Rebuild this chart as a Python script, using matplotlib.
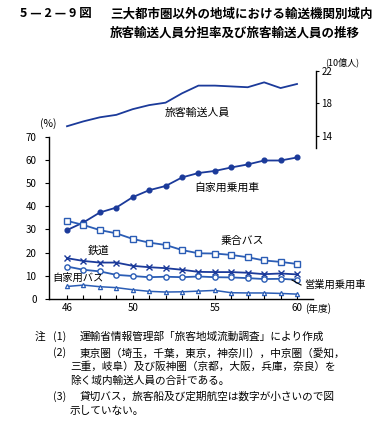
import matplotlib
matplotlib.use("Agg")
import matplotlib.pyplot as plt

plt.rcParams['font.family'] = ['Noto Sans CJK JP', 'DejaVu Sans']

years = list(range(46, 61))
passengers = [15.2, 15.8, 16.3, 16.6, 17.3, 17.8, 18.1, 19.25, 20.2, 20.2, 20.1, 20.0, 20.6, 19.9, 20.4]
private_car = [29.7, 33.0, 37.3, 39.4, 43.9, 46.9, 48.7, 52.4, 54.3, 55.2, 56.7, 58.0, 59.7, 59.7, 61.0]
route_bus = [33.7, 31.9, 29.7, 28.3, 25.9, 24.3, 23.3, 21.1, 19.7, 19.6, 19.0, 18.0, 16.6, 16.0, 15.1]
railway = [17.6, 16.4, 15.7, 15.7, 14.3, 13.7, 13.3, 12.6, 11.7, 11.6, 11.6, 11.3, 10.7, 11.0, 10.6]
taxi = [14.0, 12.6, 11.9, 10.4, 9.9, 9.4, 9.6, 9.4, 9.7, 9.4, 9.3, 9.0, 8.6, 8.7, 8.3]
private_bus = [5.4, 6.0, 5.3, 4.9, 4.0, 3.3, 3.0, 3.1, 3.4, 3.7, 2.7, 2.6, 2.6, 2.4, 2.1]
left_ticks = [0, 10, 20, 30, 40, 50, 60, 70]
right_ticks = [14, 18, 22]
x_labels = ['46', '', '', '', '50', '', '', '', '', '55', '', '', '', '', '60']

W, H = 384, 428
fig = plt.figure(figsize=(W / 100, H / 100), dpi=100)
fig.patch.set_facecolor('white')

def fx(px):
    return px / W

def fy(py):
    return 1 - py / H

# axes from x=49..316 px, y=67..299 px
ax = fig.add_axes([fx(49), fy(299), (316 - 49) / W, (299 - 67) / H])
ax.set_xlim(44.904, 61.156)
ax.set_ylim(0, 100)
ax.patch.set_alpha(0)

dark = '#1b3a9a'
mid = '#2b5db5'

ax.plot(years, private_car, color=dark, lw=1.3, marker='o', ms=3.4, mfc=dark, mec=dark)
ax.plot(years, route_bus, color=mid, lw=1.3, marker='s', ms=4.0, mfc='white', mec=mid, mew=1.0)
ax.plot(years, railway, color=dark, lw=1.3, marker='x', ms=4.0, mec=dark, mew=1.0)
ax.plot(years, taxi, color=mid, lw=1.3, marker='o', ms=3.8, mfc='white', mec=mid, mew=1.0)
ax.plot(years, private_bus, color=mid, lw=1.1, marker='^', ms=3.0, mfc='white', mec=mid, mew=0.9)

for s in ['top', 'right']:
    ax.spines[s].set_visible(False)
ax.spines['left'].set_bounds(0, 70)
ax.spines['bottom'].set_bounds(44.904, 61.0)
ax.spines['left'].set_linewidth(1.0)
ax.spines['bottom'].set_linewidth(1.0)
ax.set_yticks(left_ticks)
ax.set_yticklabels([str(t) for t in left_ticks], fontsize=7)
ax.tick_params(axis='y', direction='out', length=3, pad=6, width=0.8)
ax.set_xticks(years)
ax.set_xticklabels(x_labels, fontsize=7)
ax.tick_params(axis='x', direction='in', length=3, pad=3, width=0.8)

ax2 = ax.twinx()
ax2.set_ylim(-6.06, 22.49)
ax2.plot(years, passengers, color=dark, lw=1.3)
for s in ['top', 'left', 'bottom']:
    ax2.spines[s].set_visible(False)
ax2.spines['right'].set_bounds(12.5, 22)
ax2.spines['right'].set_linewidth(1.0)
ax2.set_yticks(right_ticks)
ax2.set_yticklabels([str(t) for t in right_ticks], fontsize=7)
ax2.tick_params(axis='y', direction='out', length=2, pad=2, width=0.8)

# Titles
fig.text(fx(20), fy(14), '5 — 2 — 9 図', fontsize=9, fontweight='bold', va='center', ha='left')
fig.text(fx(110), fy(14), '三大都市圏以外の地域における輸送機関別域内', fontsize=9, fontweight='bold', va='center', ha='left')
fig.text(fx(110), fy(33), '旅客輸送人員分担率及び旅客輸送人員の推移', fontsize=9, fontweight='bold', va='center', ha='left')

fig.text(fx(325), fy(62), '(10億人)', fontsize=6.5, va='center', ha='left')
fig.text(fx(40), fy(124), '(%)', fontsize=7.5, va='center', ha='left')
fig.text(fx(305), fy(309), '(年度)', fontsize=7, va='center', ha='left')

# Series labels
lfs = 7.8
fig.text(fx(197), fy(113), '旅客輸送人員', fontsize=lfs, va='center', ha='center')
fig.text(fx(227), fy(188), '自家用乗用車', fontsize=lfs, va='center', ha='center')
fig.text(fx(242), fy(241), '乗合バス', fontsize=lfs, va='center', ha='center')
fig.text(fx(99), fy(251), '鉄道', fontsize=lfs, va='center', ha='center')
fig.text(fx(78), fy(278), '自家用バス', fontsize=7.4, va='center', ha='center')
fig.text(fx(335), fy(285), '営業用乗用車', fontsize=7.4, va='center', ha='center')
fig.add_artist(plt.Line2D([fx(292), fx(301)], [fy(280), fy(285)], color='black', lw=0.8))

# Notes
nfs = 7.7
fig.text(fx(35), fy(337), '注', fontsize=nfs, va='center', ha='left')
fig.text(fx(53), fy(337), '(1)', fontsize=nfs, va='center', ha='left')
fig.text(fx(80), fy(337), '運輸省情報管理部「旅客地域流動調査」により作成', fontsize=nfs, va='center', ha='left')
fig.text(fx(53), fy(353), '(2)', fontsize=nfs, va='center', ha='left')
fig.text(fx(80), fy(353), '東京圏（埼玉，千葉，東京，神奈川），中京圏（愛知，', fontsize=nfs, va='center', ha='left')
fig.text(fx(70), fy(367), '三重，岐阜）及び阪神圏（京都，大阪，兵庫，奈良）を', fontsize=nfs, va='center', ha='left')
fig.text(fx(70), fy(381), '除く域内輸送人員の合計である。', fontsize=nfs, va='center', ha='left')
fig.text(fx(53), fy(397), '(3)', fontsize=nfs, va='center', ha='left')
fig.text(fx(80), fy(397), '貸切バス，旅客船及び定期航空は数字が小さいので図', fontsize=nfs, va='center', ha='left')
fig.text(fx(70), fy(411), '示していない。', fontsize=nfs, va='center', ha='left')

fig.savefig('out.png', dpi=100, facecolor='white')
